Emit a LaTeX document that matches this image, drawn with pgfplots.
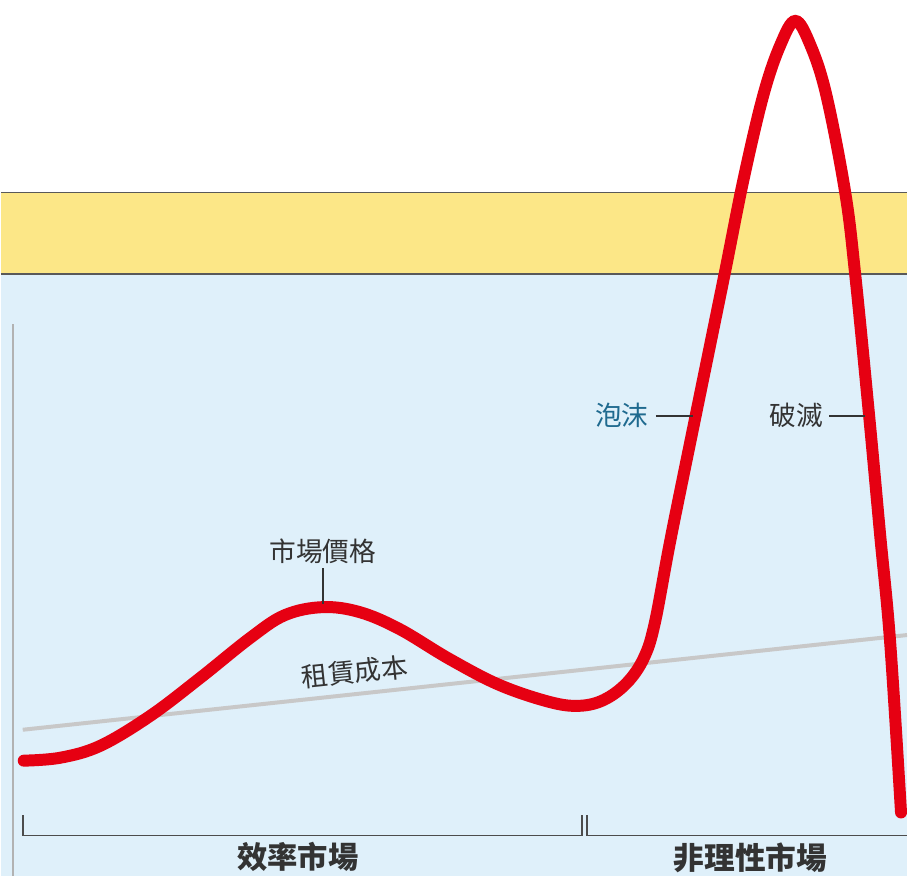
\documentclass[border=0pt]{standalone}
\usepackage{pgfplots}
\pgfplotsset{compat=1.18}
\usepackage{fontspec}
\setmainfont{Noto Sans CJK TC}
\definecolor{bgblue}{HTML}{DFF0FA}
\definecolor{bandyellow}{HTML}{FCE787}
\definecolor{curvered}{HTML}{E60012}
\definecolor{txtgray}{HTML}{333333}
\definecolor{txtblue}{HTML}{1F6A8F}
\definecolor{rentgray}{HTML}{C8C8C8}
\begin{document}
\begin{tikzpicture}
\begin{axis}[
  scale only axis, width=454.5pt, height=439.5pt,
  xmin=0, xmax=909, ymin=0, ymax=879, y dir=reverse,
  axis lines=none, clip=false, enlargelimits=false,
]
% backgrounds
\addplot[draw=none, fill=white] coordinates {(0,0) (909,0) (909,879) (0,879)} -- cycle;
\addplot[draw=none, fill=bandyellow] coordinates {(0,193) (909,193) (909,275) (0,275)} -- cycle;
\addplot[draw=none, fill=bgblue] coordinates {(0,275) (909,275) (909,879) (0,879)} -- cycle;
\addplot[draw=black!65, line width=0.8pt] coordinates {(0,193) (909,193)};
\addplot[draw=black!65, line width=0.8pt] coordinates {(0,275) (909,275)};
% left vertical axis line
\addplot[draw=black!30, line width=0.9pt] coordinates {(12,325) (12,879)};
% rent cost line
\addplot[draw=rentgray, line width=2pt] coordinates {(22,732) (909,637)};
% market price curve
\addplot[draw=curvered, line width=6pt, line cap=round, smooth, tension=0.6] coordinates {
(23,763)(60,760)(100,748)(150,718)(200,680)(250,640)(285,617)(323,609)(360,614)(400,631)(450,661)(500,687)(550,704)(580,708)(605,702)(628,685)(645,660)(656,625)(672,540)(697,417)(726,275)(745,180)(765,95)(782,45)(797,21)(812,45)(828,95)(847,193)(857,275)(871,417)(882,536)(892,643)(903,815)
};
% leader lines
\addplot[draw=txtgray, line width=0.8pt] coordinates {(657,417) (694,417)};
\addplot[draw=txtgray, line width=0.8pt] coordinates {(831,417) (867,417)};
\addplot[draw=txtgray, line width=0.8pt] coordinates {(323,570) (323,606)};
% brackets
\addplot[draw=black!70, line width=0.8pt] coordinates {(22,818) (22,838) (583,838) (583,818)};
\addplot[draw=black!70, line width=0.8pt] coordinates {(588,818) (588,838) (909,838)};
% labels
\node[text=txtgray, font=\fontsize{13.4}{16}\selectfont] at (axis cs:323,553) {市場價格};
\node[text=txtgray, font=\fontsize{13.4}{16}\selectfont, rotate=6] at (axis cs:355,674) {租賃成本};
\node[text=txtblue, font=\fontsize{13.4}{16}\selectfont] at (axis cs:623,417) {泡沫};
\node[text=txtgray, font=\fontsize{13.4}{16}\selectfont] at (axis cs:798,417) {破滅};
\node[text=txtgray, font=\fontsize{15.2}{18}\selectfont\bfseries] at (axis cs:298,860) {效率市場};
\node[text=txtgray, font=\fontsize{15.4}{18}\selectfont\bfseries] at (axis cs:752,860) {非理性市場};
\end{axis}
\end{tikzpicture}
\end{document}
